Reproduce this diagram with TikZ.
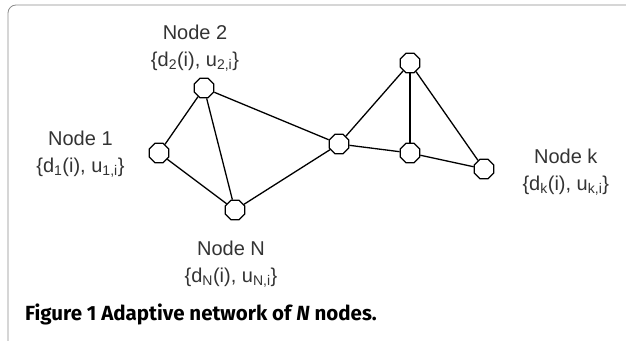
\documentclass[tikz,border=0pt]{standalone}
\usepackage{fontspec}
\setmainfont{Liberation Sans}
\newfontfamily\capfont{Fira Sans}
\usepackage{tikz}
\usetikzlibrary{positioning, shapes.geometric}

\definecolor{labelgray}{HTML}{333333}
\definecolor{framegray}{HTML}{8C8C8C}

\tikzset{
  agent/.style={draw, regular polygon, regular polygon sides=8, minimum size=21pt, inner sep=0pt, line width=1.3pt, fill=white},
  nodelbl/.style={align=center, text=labelgray, font=\fontsize{20}{27}\selectfont, inner sep=0pt},
  link/.style={line width=1.3pt}
}

\begin{document}
\begin{tikzpicture}[x=1pt, y=-1pt]
            \useasboundingbox (0,0) rectangle (626,340);
            \draw[framegray, line width=0.8pt, rounded corners=8pt] (8,5) rectangle (660,370);
            % network
            \node[agent] (n2) at (204,88) {};
            \node[agent] (n1) at (159,153) {};
            \node[agent] (nN) at (235,210) {};
            \node[agent] (hub) at (339,144) {};
            \node[agent] (top) at (410,63) {};
            \node[agent] (mid) at (410,153) {};
            \node[agent] (nk) at (484,169) {};
            \draw[link] (n1) -- (n2);
            \draw[link] (n1) -- (nN);
            \draw[link] (n2) -- (nN);
            \draw[link] (n2) -- (hub);
            \draw[link] (nN) -- (hub);
            \draw[link] (hub) -- (top);
            \draw[link] (hub) -- (mid);
            \draw[link] (top) -- (mid);
            \draw[link] (top) -- (nk);
            \draw[link] (mid) -- (nk);
            % labels
            \node[nodelbl, above=6pt of n2, xshift=-9pt] (l2) {Node 2\\ \{d\textsubscript{2}(i), u\textsubscript{2,i}\}};
            \node[nodelbl, left=24pt of n1, yshift=-1pt] (l1) {Node 1\\ \{d\textsubscript{1}(i), u\textsubscript{1,i}\}};
            \node[nodelbl, below=20pt of nN, xshift=-4pt] (lN) {Node N\\ \{d\textsubscript{N}(i), u\textsubscript{N,i}\}};
            \node[nodelbl, right=28pt of nk, yshift=-3pt] (lk) {Node k\\ \{d\textsubscript{k}(i), u\textsubscript{k,i}\}};
            % caption
            \node[anchor=base west, inner sep=0pt, font=\capfont\bfseries\fontsize{20.5}{24}\selectfont] (cap) at (25,320) {Figure 1 Adaptive network of \textit{N} nodes.};
\end{tikzpicture}
\end{document}
